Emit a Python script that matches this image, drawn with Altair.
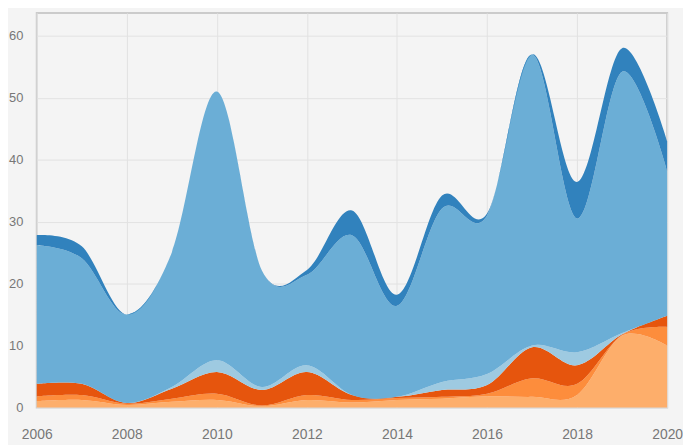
import altair as alt
import pandas as pd

years = list(range(2006, 2021))

series_names = ["Series 1", "Series 2", "Series 3", "Series 4", "Series 5", "Series 6"]
series_colors = ["#fdae6b", "#fd8d3c", "#e6550d", "#9ecae1", "#6baed6", "#3182bd"]

s1 = [1.0, 1.2, 0.4, 0.9, 1.2, 0.2, 1.2, 0.8, 1.2, 1.4, 1.8, 1.7, 2.0, 11.6, 10.0]
s2 = [0.8, 0.8, 0.2, 0.5, 1.0, 0.1, 0.8, 0.4, 0.3, 0.3, 0.4, 3.0, 1.8, 0.1, 3.0]
s3 = [2.0, 1.8, 0.1, 1.6, 3.5, 2.5, 3.7, 0.8, 0.2, 1.1, 1.4, 5.0, 3.0, 0.1, 1.8]
s4 = [0.0, 0.0, 0.0, 0.3, 1.9, 0.5, 1.1, 0.0, 0.0, 1.3, 1.8, 0.3, 2.1, 0.2, 0.0]
s5 = [22.4, 20.3, 14.3, 21.7, 43.4, 18.8, 14.6, 25.8, 14.7, 28.0, 25.6, 47.0, 21.6, 42.2, 23.4]
s6 = [1.6, 1.9, 0.0, 0.0, 0.0, 0.0, 0.8, 4.0, 1.8, 2.1, 0.3, 0.0, 5.9, 3.8, 4.8]

x_ticks = [2006, 2008, 2010, 2012, 2014, 2016, 2018, 2020]
y_ticks = [0, 10, 20, 30, 40, 50, 60]

rows = []
for i, (name, vals) in enumerate(zip(series_names, [s1, s2, s3, s4, s5, s6])):
    for y, v in zip(years, vals):
        rows.append({"year": y, "value": v, "series": name, "order": i})
df = pd.DataFrame(rows)

chart = alt.Chart(df).mark_area(interpolate="cardinal", opacity=1).encode(
    x=alt.X("year:Q",
            scale=alt.Scale(domain=[2006, 2020], nice=False, zero=False),
            axis=alt.Axis(values=x_ticks, format="d", title=None, labelPadding=20,
                          labelFontSize=14, domain=False, ticks=False,
                          minExtent=36, maxExtent=36, labelFlush=False)),
    y=alt.Y("value:Q", stack="zero",
            scale=alt.Scale(domain=[0, 63.7], nice=False),
            axis=alt.Axis(values=y_ticks, title=None, labelPadding=14,
                          labelFontSize=13, domain=False, ticks=False,
                          minExtent=29, maxExtent=29)),
    color=alt.Color("series:N",
                    scale=alt.Scale(domain=series_names, range=series_colors),
                    legend=None),
    order=alt.Order("order:Q", sort="ascending"),
).properties(
    width=636,
    height=398,
    padding={"left": 0, "top": 3, "right": 0, "bottom": 0},
    background="#f4f4f4",
).configure_view(
    fill="#f4f4f4",
    stroke="#cbcbcb",
    strokeWidth=2,
).configure_axis(
    labelColor="#777777",
    labelFont="Liberation Sans",
    gridColor="#e2e2e2",
    gridWidth=1,
)

chart.save("out.html", embed_options={"renderer": "svg", "actions": False})
